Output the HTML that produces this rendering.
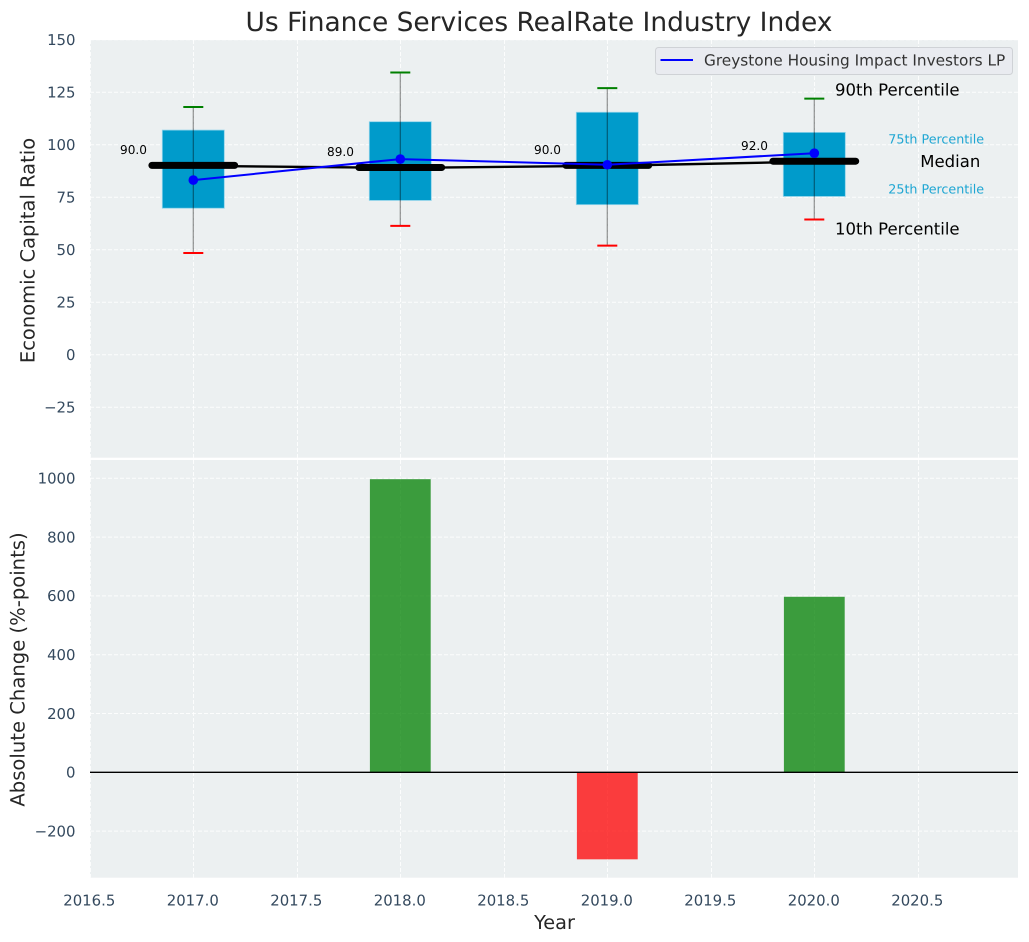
<!DOCTYPE html>
<html lang="en">
<head>
<meta charset="utf-8">
<title>Us Finance Services RealRate Industry Index</title>
<style>
html,body{margin:0;padding:0;background:#fff;}
svg{display:block;font-family:"DejaVu Sans","Liberation Sans",sans-serif;text-rendering:geometricPrecision;}
</style>
</head>
<body>
<svg id="chart" xmlns="http://www.w3.org/2000/svg" width="1029" height="942" viewBox="0 0 1029 942">
  <rect x="90" y="40" width="928" height="417.7" fill="#ecf0f1"/>
  <rect x="90" y="460" width="928" height="417.7" fill="#ecf0f1"/>
  <g id="grid"></g>
  <g id="bars"></g>
  <line x1="90" x2="1018" y1="772.3" y2="772.3" stroke="#000" stroke-width="1.3"/>
  <g id="boxes"></g>
  <g id="series"></g>
  <g id="annotations"></g>
  <g id="ticks"></g>
  <text x="539" y="31" font-size="26.45px" fill="#262626" text-anchor="middle">Us Finance Services RealRate Industry Index</text>
  <text transform="translate(34.5,250.5) rotate(-90)" font-size="19.5px" fill="#262626" text-anchor="middle">Economic Capital Ratio</text>
  <text transform="translate(24.5,669.5) rotate(-90)" font-size="19.6px" fill="#262626" text-anchor="middle">Absolute Change (%-points)</text>
  <text x="554.5" y="929" font-size="19.3px" fill="#262626" text-anchor="middle">Year</text>
  <g>
    <rect x="655.5" y="47.5" width="357" height="27" rx="3" fill="#e9ebf0" stroke="#cfd2d6" stroke-width="1"/>
    <line x1="660.5" x2="693" y1="60" y2="60" stroke="#0000ff" stroke-width="2"/>
    <text x="704" y="65.5" font-size="15.3px" fill="#333">Greystone Housing Impact Investors LP</text>
  </g>
</svg>
<script>
const years = [2017, 2018, 2019, 2020];
const p90 = [118, 134.4, 127, 122];
const p75 = [107, 111, 115.5, 105.9];
const medians = [90, 89, 90, 92];
const p25 = [69.8, 73.5, 71.5, 75.4];
const p10 = [48.5, 61.4, 52, 64.4];
const company = [83.2, 93.2, 90.5, 96];
const changes = [0, 997, -296, 597];
const xTicks = [2016.5, 2017, 2017.5, 2018, 2018.5, 2019, 2019.5, 2020, 2020.5];
const topYTicks = [150, 125, 100, 75, 50, 25, 0, -25];
const bottomYTicks = [1000, 800, 600, 400, 200, 0, -200];

const NS = 'http://www.w3.org/2000/svg';
function xAxis(v) { return 193.3 + (v - 2017) * 207; }
function topY(v) { return 354.8 - 2.1 * v; }
function bottomY(v) { return 772.3 - 0.294 * v; }
function make(tag, parentId, props, content) {
  const el = document.createElementNS(NS, tag);
  for (const k in props) el.setAttribute(k, props[k]);
  if (content !== undefined) el.textContent = content;
  document.getElementById(parentId).appendChild(el);
  return el;
}
function minus(v) { return String(v).replace('-', '\u2212'); }
const gridStyle = { stroke: '#ffffff', 'stroke-width': 1, 'stroke-dasharray': '4 2', 'stroke-opacity': 0.85 };

xTicks.forEach(function (t) {
  const px = Math.round(xAxis(t)) + 0.5;
  const upper = make('line', 'grid', Object.assign({ x1: px, x2: px, y1: 40, y2: 457.7 }, gridStyle));
  
  
  const lower = make('line', 'grid', Object.assign({ x1: px, x2: px, y1: 460, y2: 877.7 }, gridStyle));
  
  
  const label = make('text', 'ticks', { x: xAxis(t) - 0.5, y: 905.5, 'font-size': '14.9px', fill: '#34495e', 'text-anchor': 'middle' }, t.toFixed(1));
  
  
});

topYTicks.forEach(function (t) {
  const py = topY(t);
  const line = make('line', 'grid', Object.assign({ x1: 90, x2: 1018, y1: py, y2: py }, gridStyle));
  
  
  const label = make('text', 'ticks', { x: 75.5, y: py + 5.3, 'font-size': '14.9px', fill: '#34495e', 'text-anchor': 'end' }, minus(t));
  
  
});

bottomYTicks.forEach(function (t) {
  const py = bottomY(t);
  const line = make('line', 'grid', Object.assign({ x1: 90, x2: 1018, y1: py, y2: py }, gridStyle));
  
  
  const label = make('text', 'ticks', { x: 75.5, y: py + 5.3, 'font-size': '14.9px', fill: '#34495e', 'text-anchor': 'end' }, minus(t));
  
  
});

years.forEach(function (yr, i) {
  const change = changes[i];
  if (change !== 0) {
    const top = bottomY(Math.max(change, 0));
    const bottom = bottomY(Math.min(change, 0));
    const bar = make('rect', 'bars', {
      x: xAxis(yr) - 30.4, y: top, width: 60.8, height: bottom - top,
      fill: change > 0 ? '#008000' : '#ff0000', 'fill-opacity': 0.75
    });
    
    
  }
  const cx = xAxis(yr);
  const box = make('rect', 'boxes', {
    x: cx - 31, y: topY(p75[i]), width: 62, height: topY(p25[i]) - topY(p75[i]),
    fill: '#009bcb', stroke: '#8fd3ea', 'stroke-width': 0.8
  });
  
  
  const whisker = make('line', 'boxes', {
    x1: cx, x2: cx, y1: topY(p90[i]), y2: topY(p10[i]),
    stroke: '#000', 'stroke-opacity': 0.42, 'stroke-width': 1.2
  });
  
  
  const capHigh = make('line', 'boxes', { x1: cx - 10, x2: cx + 10, y1: topY(p90[i]), y2: topY(p90[i]), stroke: '#008000', 'stroke-width': 2 });
  
  
  const capLow = make('line', 'boxes', { x1: cx - 10, x2: cx + 10, y1: topY(p10[i]), y2: topY(p10[i]), stroke: '#ff0000', 'stroke-width': 2 });
  
  
  const medLabel = make('text', 'annotations', { x: cx - 73.3, y: topY(medians[i]) - 11.8, 'font-size': '12.1px', fill: '#000' }, medians[i].toFixed(1));
  
  
});

const medianPoints = years.map(function (yr, i) { return xAxis(yr) + ',' + topY(medians[i]); }).join(' ');
const medianLine = make('polyline', 'series', { points: medianPoints, fill: 'none', stroke: '#000', 'stroke-width': 2.4 });



years.forEach(function (yr, i) {
  const cx = xAxis(yr);
  const seg = make('line', 'series', {
    x1: cx - 41.4, x2: cx + 41.4, y1: topY(medians[i]) - 0.4, y2: topY(medians[i]) - 0.4,
    stroke: '#000', 'stroke-width': 7, 'stroke-linecap': 'round'
  });
  
  
});

const companyPoints = years.map(function (yr, i) { return xAxis(yr) + ',' + topY(company[i]); }).join(' ');
const companyLine = make('polyline', 'series', { points: companyPoints, fill: 'none', stroke: '#0000ff', 'stroke-width': 2 });



years.forEach(function (yr, i) {
  const dot = make('circle', 'series', { cx: xAxis(yr), cy: topY(company[i]), r: 4.8, fill: '#0000ff' });
  
  
});

const last = years.length - 1;
const a90 = make('text', 'annotations', { x: xAxis(years[last]) + 20.7, y: topY(p90[last]) - 3, 'font-size': '16.5px', fill: '#000' }, '90th Percentile');


const a10 = make('text', 'annotations', { x: xAxis(years[last]) + 20.7, y: topY(p10[last]) + 15, 'font-size': '16.5px', fill: '#000' }, '10th Percentile');


const a75 = make('text', 'annotations', { x: xAxis(years[last]) + 74, y: topY(p75[last]) + 11, 'font-size': '12.7px', fill: '#1ea6d3' }, '75th Percentile');


const a25 = make('text', 'annotations', { x: xAxis(years[last]) + 74, y: topY(p25[last]) - 3, 'font-size': '12.7px', fill: '#1ea6d3' }, '25th Percentile');


const aMed = make('text', 'annotations', { x: xAxis(years[last]) + 106, y: topY(medians[last]) + 5.5, 'font-size': '16.5px', fill: '#000' }, 'Median');


</script>
</body>
</html>
